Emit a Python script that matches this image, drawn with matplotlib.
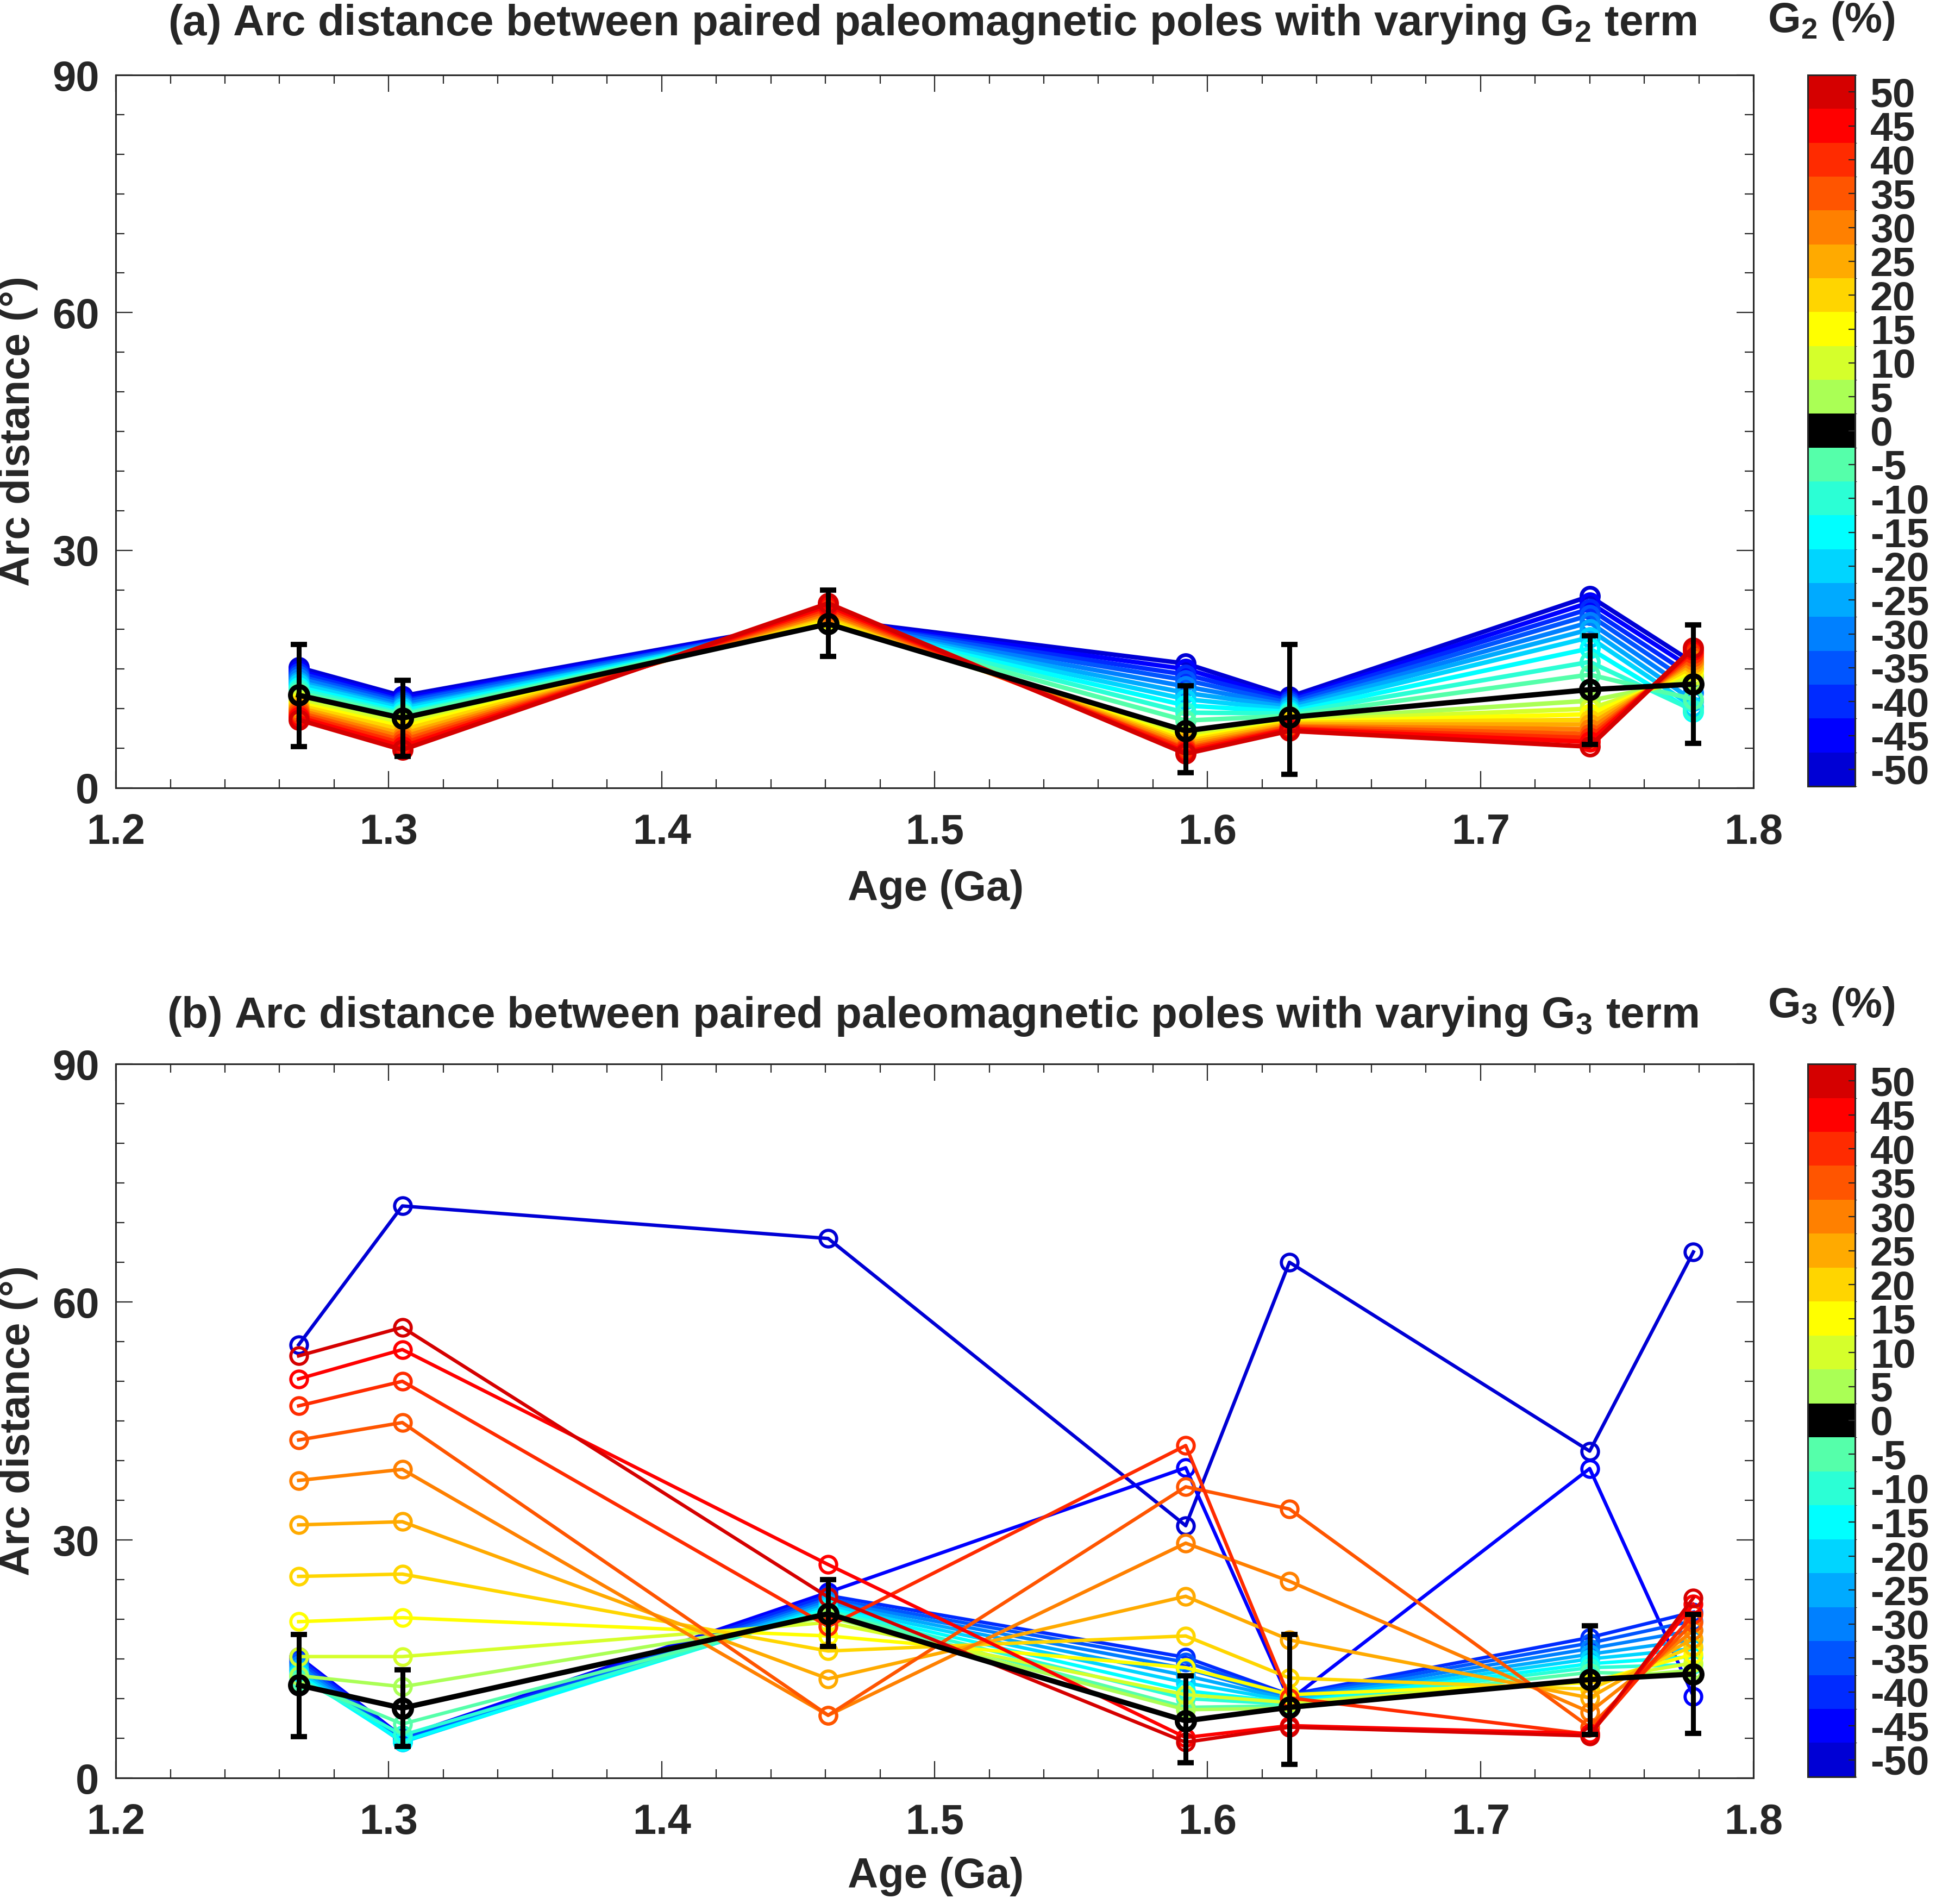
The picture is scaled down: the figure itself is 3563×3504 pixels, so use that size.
import numpy as np
import matplotlib
matplotlib.use("Agg")
import matplotlib.pyplot as plt
from matplotlib.colors import ListedColormap, BoundaryNorm
from matplotlib.cm import ScalarMappable
from matplotlib.ticker import MultipleLocator, FormatStrFormatter

plt.rcParams['font.family'] = ['Liberation Sans', 'DejaVu Sans']
plt.rcParams['font.weight'] = 'bold'
plt.rcParams['axes.unicode_minus'] = False
plt.rcParams['mathtext.fontset'] = 'custom'
plt.rcParams['mathtext.bf'] = 'Liberation Sans:bold'
plt.rcParams['mathtext.rm'] = 'Liberation Sans:bold'
plt.rcParams['mathtext.default'] = 'bf'

# ages of the paired poles (Ga)
ages = [1.267, 1.305, 1.461, 1.592, 1.630, 1.740, 1.778]
g_values = list(range(-50, 55, 5))

# reference arc distance (G = 0) and its error bar limits
err_low = [5.2, 4.0, 16.6, 1.9, 1.7, 5.5, 5.6]
err_high = [18.1, 13.6, 25.0, 12.9, 18.1, 19.2, 20.6]

# (a) arc distance for each G2 value (rows follow g_values)
arc_g2 = [
    [15.2, 11.6, 21.3, 15.7, 11.5, 24.2, 15.8],
    [14.8, 11.3, 21.2, 15.0, 11.2, 23.4, 15.0],
    [14.5, 11.0, 21.1, 14.3, 11.0, 22.6, 14.0],
    [14.1, 10.8, 21.1, 13.6, 10.7, 21.8, 13.0],
    [13.8, 10.5, 21.0, 12.8, 10.4, 20.9, 12.0],
    [13.4, 10.2, 20.9, 12.0, 10.2, 20.0, 11.0],
    [13.1, 10.0, 20.9, 11.2, 9.9, 19.0, 10.2],
    [12.7, 9.7, 20.8, 10.4, 9.6, 17.6, 9.6],
    [12.4, 9.4, 20.8, 9.5, 9.4, 15.9, 9.8],
    [12.0, 9.2, 20.7, 8.5, 9.1, 14.3, 11.2],
    [11.7, 8.8, 20.7, 7.2, 8.9, 12.4, 13.1],
    [11.3, 8.5, 20.9, 6.8, 8.6, 11.0, 13.6],
    [11.0, 8.1, 21.2, 6.5, 8.5, 10.0, 14.2],
    [10.7, 7.7, 21.4, 6.2, 8.3, 9.3, 14.8],
    [10.4, 7.3, 21.6, 5.9, 8.2, 8.6, 15.3],
    [10.1, 6.8, 21.9, 5.6, 8.0, 8.0, 15.8],
    [9.8, 6.4, 22.1, 5.3, 7.8, 7.4, 16.2],
    [9.5, 6.0, 22.4, 5.0, 7.7, 6.8, 16.6],
    [9.2, 5.6, 22.7, 4.8, 7.5, 6.3, 17.0],
    [8.9, 5.2, 23.0, 4.5, 7.4, 5.8, 17.4],
    [8.6, 4.8, 23.3, 4.3, 7.2, 5.2, 17.7],
]

# (b) arc distance for each G3 value (rows follow g_values)
arc_g3 = [
    [54.6, 72.1, 68.0, 31.8, 65.0, 41.2, 66.3],
    [15.3, 5.2, 23.4, 39.1, 9.8, 39.0, 10.3],
    [15.0, 5.0, 23.0, 15.2, 10.5, 17.7, 20.9],
    [14.6, 4.8, 22.6, 14.6, 10.3, 17.0, 19.8],
    [14.2, 4.6, 22.3, 13.8, 10.1, 16.3, 18.6],
    [13.8, 4.5, 22.0, 12.9, 9.9, 15.6, 17.4],
    [13.4, 4.5, 21.7, 12.0, 9.7, 15.0, 16.3],
    [13.0, 4.6, 21.4, 11.0, 9.5, 14.4, 15.3],
    [12.6, 5.4, 21.1, 10.0, 9.3, 13.9, 14.3],
    [12.2, 6.8, 20.9, 8.9, 9.1, 13.3, 13.0],
    [11.7, 8.8, 20.7, 7.2, 8.9, 12.4, 13.1],
    [12.9, 11.5, 20.3, 8.6, 8.8, 12.4, 13.6],
    [15.3, 15.3, 19.6, 10.5, 9.5, 12.3, 14.5],
    [19.7, 20.2, 17.9, 13.9, 10.5, 12.0, 15.6],
    [25.4, 25.7, 16.0, 17.9, 12.6, 11.2, 16.6],
    [31.9, 32.3, 12.5, 22.9, 17.4, 10.1, 17.6],
    [37.5, 38.9, 7.9, 29.6, 24.8, 8.3, 18.6],
    [42.6, 44.8, 7.9, 36.7, 33.9, 6.4, 19.6],
    [46.9, 50.0, 19.1, 41.9, 10.1, 5.5, 20.6],
    [50.3, 54.0, 26.9, 5.1, 6.6, 5.6, 21.9],
    [53.2, 56.8, 22.8, 4.5, 6.4, 5.3, 22.7],
]


def matlab_jet(m):
    # same construction as MATLAB's jet(m)
    n = int(np.ceil(m / 4))
    u = np.concatenate([np.arange(1, n + 1) / n, np.ones(n - 1), np.arange(n, 0, -1) / n])
    g = int(np.ceil(n / 2)) - (1 if m % 4 == 1 else 0) + np.arange(1, len(u) + 1)
    r = g + n
    b = g - n
    cmap = np.zeros((m, 3))
    for idx, val in zip(r, u):
        if 1 <= idx <= m:
            cmap[idx - 1, 0] = val
    for idx, val in zip(g, u):
        if 1 <= idx <= m:
            cmap[idx - 1, 1] = val
    for idx, val in zip(b, u):
        if 1 <= idx <= m:
            cmap[idx - 1, 2] = val
    return cmap


colors = matlab_jet(len(g_values))
colors[len(g_values) // 2] = [0, 0, 0]
cmap = ListedColormap(colors)
norm = BoundaryNorm(np.arange(-52.5, 53, 5), cmap.N)

dark = '#262626'
fig = plt.figure(figsize=(35.63, 35.04), dpi=100)

panels = [
    dict(data=arc_g2, rect=[0.0598, 0.5862, 0.8459, 0.3744], crect=[0.9338, 0.5870, 0.0244, 0.3736],
         lw=6.0, ms=23, mew=5.0, sub='2', tag='(a)', title_y=0.9872, glab_y=0.9889,
         ylab_y=0.7734, xlab_y=0.5331),
    dict(data=arc_g3, rect=[0.0598, 0.0662, 0.8459, 0.3750], crect=[0.9338, 0.0668, 0.0244, 0.3744],
         lw=4.6, ms=22, mew=4.2, sub='3', tag='(b)', title_y=0.4663, glab_y=0.4715,
         ylab_y=0.2537, xlab_y=0.0143),
]

for p in panels:
    ax = fig.add_axes(p['rect'])
    for g, row, c in zip(g_values, p['data'], colors):
        if g == 0:
            continue
        ax.plot(ages, row, '-o', color=c, lw=p['lw'], ms=p['ms'], mew=p['mew'],
                mfc='none', mec=c, zorder=2)
    base = p['data'][g_values.index(0)]
    yerr = [np.array(base) - np.array(err_low), np.array(err_high) - np.array(base)]
    ax.errorbar(ages, base, yerr=yerr, fmt='none', ecolor='k', elinewidth=6.5,
                capsize=11, capthick=7, zorder=3)
    ax.plot(ages, base, '-o', color='k', lw=7, ms=23, mew=6.5, mfc='none', mec='k', zorder=4)

    ax.set_xlim(1.2, 1.8)
    ax.set_ylim(0, 90)
    ax.set_xticks(np.arange(1.2, 1.81, 0.1))
    ax.set_yticks([0, 30, 60, 90])
    ax.xaxis.set_major_formatter(FormatStrFormatter('%.1f'))
    ax.xaxis.set_minor_locator(MultipleLocator(0.02))
    ax.yaxis.set_minor_locator(MultipleLocator(5))
    ax.tick_params(which='both', direction='in', top=True, right=True, color=dark,
                   labelcolor=dark, width=1.6, labelsize=56)
    ax.tick_params(which='major', length=22)
    ax.tick_params(which='minor', length=11.5)
    ax.tick_params(axis='x', which='major', pad=33)
    ax.tick_params(axis='y', which='major', pad=22)
    for lab in ax.get_xticklabels() + ax.get_yticklabels():
        lab.set_fontweight('bold')
    for s in ax.spines.values():
        s.set_color(dark)
        s.set_linewidth(2.2)

    fig.text(0.4816, p['title_y'],
             p['tag'] + ' Arc distance between paired paleomagnetic poles with varying G$_{' + p['sub'] + '}$ term',
             ha='center', va='center', fontsize=57.5, fontweight='bold', color=dark)
    fig.text(0.0095, p['ylab_y'], 'Arc distance (°)', rotation=90, ha='center', va='center',
             fontsize=56, fontweight='bold', color=dark)
    fig.text(0.4833, p['xlab_y'], 'Age (Ga)', ha='center', va='center',
             fontsize=56, fontweight='bold', color=dark)

    cax = fig.add_axes(p['crect'])
    cb = fig.colorbar(ScalarMappable(norm=norm, cmap=cmap), cax=cax, ticks=g_values)
    cb.outline.set_edgecolor(dark)
    cb.outline.set_linewidth(2.2)
    cax.tick_params(direction='in', length=9, width=1.6, color=dark, labelcolor=dark,
                    labelsize=54, pad=20)
    cax.set_yticklabels([str(g) for g in g_values])
    for lab in cax.get_yticklabels():
        lab.set_fontweight('bold')
    fig.text(0.9458, p['glab_y'], 'G$_{' + p['sub'] + '}$ (%)', ha='center', va='center',
             fontsize=56, fontweight='bold', color=dark)

fig.savefig('out.png', dpi=100)
